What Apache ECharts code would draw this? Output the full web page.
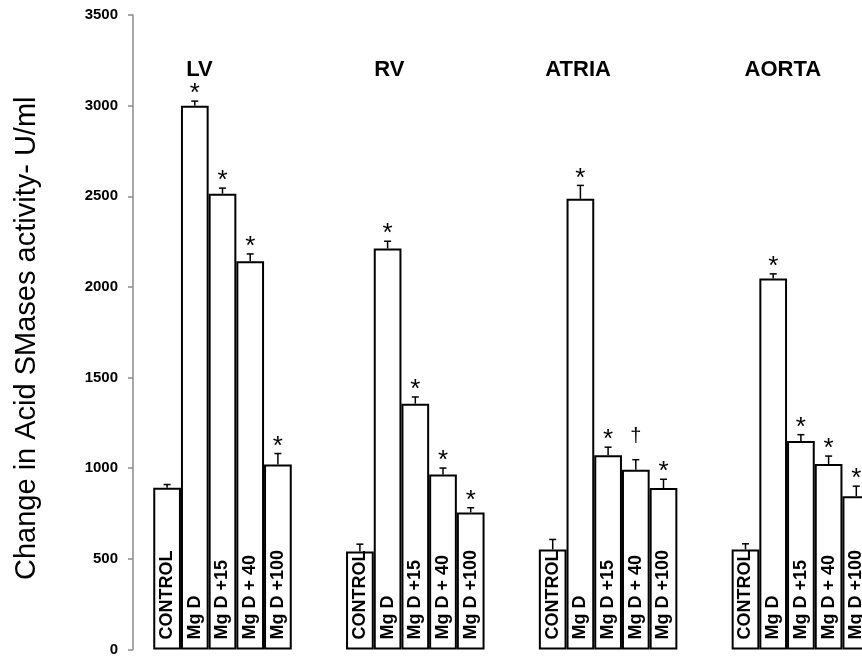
<!DOCTYPE html>
<html><head><meta charset="utf-8">
<script src="https://cdn.jsdelivr.net/npm/echarts@6/dist/echarts.min.js"></script>
<style>html,body{margin:0;padding:0;background:#fff}#c{width:862px;height:658px}</style>
</head><body><div id="c"></div>
<script>
// ---- data ----
const groups = ['LV', 'RV', 'ATRIA', 'AORTA'];
const treatments = ['CONTROL', 'Mg D', 'Mg D +15', 'Mg D + 40', 'Mg D +100'];

const controlVals = [892, 541, 552, 552];
const mgdVals     = [3000, 2212, 2486, 2046];
const mgd15Vals   = [2514, 1356, 1071, 1150];
const mgd40Vals   = [2142, 966, 992, 1023];
const mgd100Vals  = [1021, 756, 891, 846];

const controlErr = [18, 40, 55, 31];
const mgdErr     = [25, 40, 74, 26];
const mgd15Err   = [31, 37, 45, 35];
const mgd40Err   = [40, 35, 55, 44];
const mgd100Err  = [60, 26, 48, 55];

const controlMarks = ['', '', '', ''];
const mgdMarks     = ['*', '*', '*', '*'];
const mgd15Marks   = ['*', '*', '*', '*'];
const mgd40Marks   = ['*', '*', '\u2020', '*'];
const mgd100Marks  = ['*', '*', '*', '*'];

const yTickValues = [0, 500, 1000, 1500, 2000, 2500, 3000, 3500];

// ---- build ----
const meansList = [controlVals, mgdVals, mgd15Vals, mgd40Vals, mgd100Vals];
const errList = [controlErr, mgdErr, mgd15Err, mgd40Err, mgd100Err];
const markList = [controlMarks, mgdMarks, mgd15Marks, mgd40Marks, mgd100Marks];

const FONT = "'Liberation Sans', Arial, Helvetica, sans-serif";
const BAR_W = 27.7;
const titleShift = [46, 52, 60, 36];

const chart = echarts.init(document.getElementById('c'), null, { renderer: 'canvas' });

const series = [];
treatments.forEach((t, ti) => {
  series.push({
    name: t,
    type: 'bar',
    xAxisIndex: 0,
    barWidth: BAR_W,
    barGap: '0%',
    data: meansList[ti],
    itemStyle: { color: '#fff', borderColor: '#000', borderWidth: 2 },
    label: {
      show: true,
      position: 'insideBottom',
      distance: 10,
      rotate: 90,
      align: 'left',
      verticalAlign: 'middle',
      formatter: t,
      color: '#000',
      fontFamily: FONT,
      fontWeight: 'bold',
      fontSize: 18
    },
    emphasis: { disabled: true },
    z: 2
  });
});

treatments.forEach((t, ti) => {
  series.push({
    type: 'custom',
    xAxisIndex: 0,
    z: 5,
    encode: { x: 0, y: 1 },
    data: meansList[ti].map((m, gi) => [gi, m, errList[ti][gi]]),
    renderItem: function (params, api) {
      const gi = api.value(0), m = api.value(1), e = api.value(2);
      const base = api.coord([gi, m]);
      const top = api.coord([gi, m + e]);
      const x = base[0] + (ti - 2) * BAR_W;
      const children = [
        { type: 'line', shape: { x1: x, y1: base[1], x2: x, y2: top[1] }, style: { stroke: '#000', lineWidth: 1.5 } },
        { type: 'line', shape: { x1: x - 3.5, y1: top[1], x2: x + 3.5, y2: top[1] }, style: { stroke: '#000', lineWidth: 1.5 } }
      ];
      const mk = markList[ti][params.dataIndex];
      if (mk === '*') {
        children.push({ type: 'text', style: { text: '*', x: x, y: top[1] - 7, align: 'center', verticalAlign: 'middle', fontSize: 26, fontFamily: FONT, fill: '#000' } });
      } else if (mk) {
        children.push({ type: 'text', style: { text: mk, x: x, y: top[1] - 23, align: 'center', verticalAlign: 'middle', fontSize: 20, fontFamily: FONT, fill: '#000' } });
      }
      return { type: 'group', children: children };
    }
  });
});

const option = {
  backgroundColor: '#fff',
  animation: false,
  grid: { left: 126.1, width: 771.2, top: 15, bottom: 8.5, containLabel: false, outerBoundsMode: 'none' },
  xAxis: [
    {
      type: 'category',
      data: groups,
      axisLine: { show: false },
      axisTick: { show: false },
      axisLabel: { show: false },
      splitLine: { show: false }
    },
    {
      type: 'category',
      position: 'top',
      data: groups.map((g, i) => ({ value: g, textStyle: { padding: [0, titleShift[i], 0, 0] } })),
      axisLine: { show: false },
      axisTick: { show: false },
      axisLabel: { show: true, inside: true, margin: 44, color: '#000', fontFamily: FONT, fontWeight: 'bold', fontSize: 22 },
      splitLine: { show: false }
    }
  ],
  yAxis: {
    type: 'value',
    min: 0,
    max: 3500,
    interval: 500,
    offset: -6.9,
    name: 'Change in Acid SMases activity- U/ml',
    nameLocation: 'middle',
    nameRotate: 90,
    nameGap: 92,
    nameTextStyle: { color: '#000', fontFamily: FONT, fontSize: 29, padding: [0, 12, 0, 0] },
    axisLine: { show: true, lineStyle: { color: '#8c8c8c', width: 1.5 } },
    axisTick: { show: true, length: 5, lineStyle: { color: '#8c8c8c', width: 1.5 } },
    axisLabel: { color: '#000', fontFamily: FONT, fontWeight: 'bold', fontSize: 15, margin: 15,
      customValues: yTickValues, formatter: v => String(v) },
    splitLine: { show: false }
  },
  series: series
};
chart.setOption(option);
</script>
</body></html>
